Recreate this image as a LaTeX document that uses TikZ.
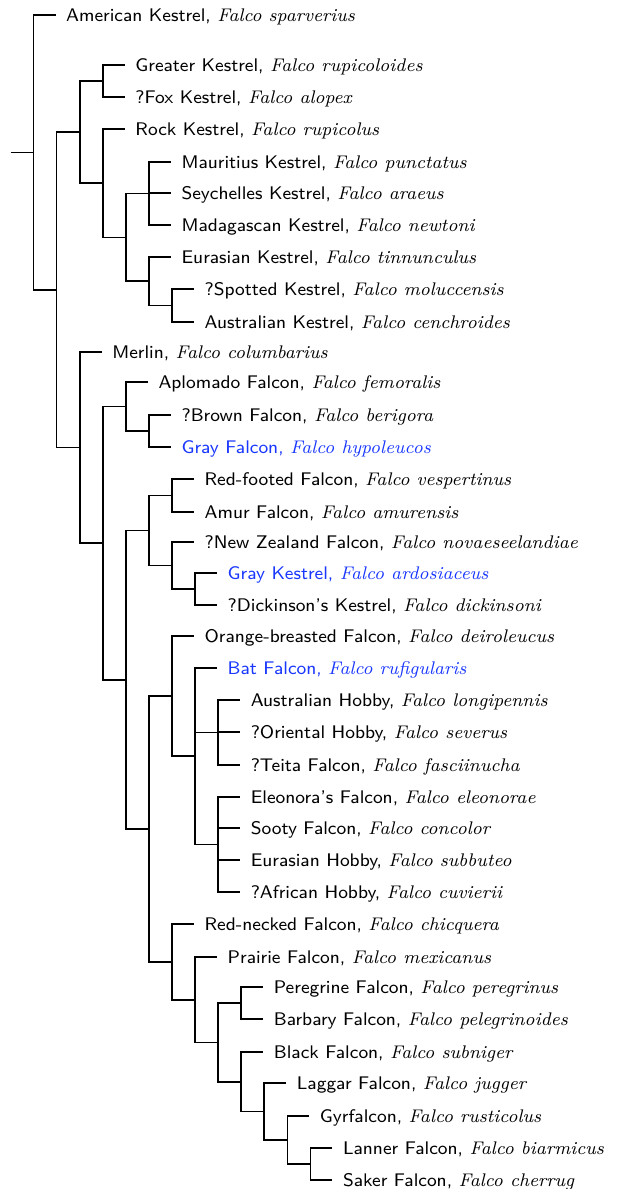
\documentclass[tikz,border=0pt]{standalone}
\usepackage{graphicx}
\definecolor{hlblue}{RGB}{25,55,255}
\newcommand{\spn}[1]{{\rmfamily\itshape #1}}
\newcommand{\lf}[2]{\scalebox{1.29}{#1, \spn{#2}}}
\begin{document}
\begin{tikzpicture}[x=0.5645pt,y=-0.5645pt,line width=0.95pt,
  tip/.style={anchor=west,font=\fontsize{8}{9.6}\selectfont\sffamily,text height=7.17pt,text depth=0pt,inner xsep=5.5pt,inner ysep=0pt},
  hl/.style={text=hlblue},
  branch/.style={draw=black}]
\useasboundingbox (0,0) rectangle (617,1189);
% internal nodes
\coordinate (r0) at (10.5,152.4);
\coordinate (R) at (33.57,152.4);
\coordinate (A) at (56.64,289.8);
\coordinate (K) at (79.71,132);
\coordinate (K1) at (102.78,80.8);
\coordinate (K2) at (102.78,183.2);
\coordinate (K3) at (125.85,237.4);
\coordinate (K4) at (148.92,193.5);
\coordinate (K5) at (148.92,281.25);
\coordinate (K6) at (171.99,305.5);
\coordinate (H) at (79.71,447.6);
\coordinate (H1) at (102.78,543.1);
\coordinate (H2) at (125.85,406.5);
\coordinate (H4) at (148.92,431);
\coordinate (H3) at (125.85,679.75);
\coordinate (H5) at (148.92,530.5);
\coordinate (H7) at (171.99,495.5);
\coordinate (H8) at (171.99,565.5);
\coordinate (H9) at (195.06,589);
\coordinate (H6) at (148.92,829);
\coordinate (H10) at (171.99,696.1);
\coordinate (H12) at (195.06,756.25);
\coordinate (H13) at (218.13,732.5);
\coordinate (H14) at (218.13,844.5);
\coordinate (H11) at (171.99,961.85);
\coordinate (H15) at (195.06,999.7);
\coordinate (H16) at (218.13,1042.4);
\coordinate (H17) at (241.2,1003);
\coordinate (H18) at (241.2,1081.75);
\coordinate (H19) at (264.27,1111.5);
\coordinate (H20) at (287.34,1140);
\coordinate (H21) at (310.41,1164);
% leaves
\node[tip] (am) at (55.64,15) {\lf{American Kestrel}{Falco sparverius}};
\node[tip] (gr) at (124.85,65) {\lf{Greater Kestrel}{Falco rupicoloides}};
\node[tip] (fo) at (124.85,96.7) {\lf{?Fox Kestrel}{Falco alopex}};
\node[tip] (ro) at (124.85,129) {\lf{Rock Kestrel}{Falco rupicolus}};
\node[tip] (ma) at (170.99,162) {\lf{Mauritius Kestrel}{Falco punctatus}};
\node[tip] (se) at (170.99,193) {\lf{Seychelles Kestrel}{Falco araeus}};
\node[tip] (mg) at (170.99,225) {\lf{Madagascan Kestrel}{Falco newtoni}};
\node[tip] (eu) at (170.99,257) {\lf{Eurasian Kestrel}{Falco tinnunculus}};
\node[tip] (sp) at (194.06,289) {\lf{?Spotted Kestrel}{Falco moluccensis}};
\node[tip] (au) at (194.06,322) {\lf{Australian Kestrel}{Falco cenchroides}};
\node[tip] (me) at (101.78,352) {\lf{Merlin}{Falco columbarius}};
\node[tip] (ap) at (147.92,382) {\lf{Aplomado Falcon}{Falco femoralis}};
\node[tip] (br) at (170.99,415) {\lf{?Brown Falcon}{Falco berigora}};
\node[tip,hl] (gf) at (170.99,447) {\lf{Gray Falcon}{Falco hypoleucos}};
\node[tip] (rf) at (194.06,479) {\lf{Red-footed Falcon}{Falco vespertinus}};
\node[tip] (amu) at (194.06,512) {\lf{Amur Falcon}{Falco amurensis}};
\node[tip] (nz) at (194.06,542) {\lf{?New Zealand Falcon}{Falco novaeseelandiae}};
\node[tip,hl] (gk) at (217.13,573) {\lf{Gray Kestrel}{Falco ardosiaceus}};
\node[tip] (di) at (217.13,605) {\lf{?Dickinson's Kestrel}{Falco dickinsoni}};
\node[tip] (orb) at (194.06,636) {\lf{Orange-breasted Falcon}{Falco deiroleucus}};
\node[tip,hl] (ba) at (217.13,668) {\lf{Bat Falcon}{Falco rufigularis}};
\node[tip] (ah) at (240.2,700) {\lf{Australian Hobby}{Falco longipennis}};
\node[tip] (oh) at (240.2,732) {\lf{?Oriental Hobby}{Falco severus}};
\node[tip] (te) at (240.2,765) {\lf{?Teita Falcon}{Falco fasciinucha}};
\node[tip] (el) at (240.2,797) {\lf{Eleonora's Falcon}{Falco eleonorae}};
\node[tip] (so) at (240.2,828) {\lf{Sooty Falcon}{Falco concolor}};
\node[tip] (eh) at (240.2,860) {\lf{Eurasian Hobby}{Falco subbuteo}};
\node[tip] (af) at (240.2,892) {\lf{?African Hobby}{Falco cuvierii}};
\node[tip] (rn) at (194.06,924) {\lf{Red-necked Falcon}{Falco chicquera}};
\node[tip] (pr) at (217.13,957) {\lf{Prairie Falcon}{Falco mexicanus}};
\node[tip] (pe) at (263.27,987) {\lf{Peregrine Falcon}{Falco peregrinus}};
\node[tip] (bb) at (263.27,1019) {\lf{Barbary Falcon}{Falco pelegrinoides}};
\node[tip] (bl) at (263.27,1052) {\lf{Black Falcon}{Falco subniger}};
\node[tip] (la) at (286.34,1083) {\lf{Laggar Falcon}{Falco jugger}};
\node[tip] (gy) at (309.41,1116) {\lf{Gyrfalcon}{Falco rusticolus}};
\node[tip] (ln) at (332.48,1148) {\lf{Lanner Falcon}{Falco biarmicus}};
\node[tip] (sa) at (332.48,1180) {\lf{Saker Falcon}{Falco cherrug}};
% branches
\draw[branch] (r0) -- (R);
\draw[branch] (R) |- (am.west);
\draw[branch] (R) |- (A);
\draw[branch] (A) |- (K);
\draw[branch] (A) |- (H);
\draw[branch] (K) |- (K1);
\draw[branch] (K) |- (K2);
\draw[branch] (K1) |- (gr.west);
\draw[branch] (K1) |- (fo.west);
\draw[branch] (K2) |- (ro.west);
\draw[branch] (K2) |- (K3);
\draw[branch] (K3) |- (K4);
\draw[branch] (K3) |- (K5);
\draw[branch] (K4) |- (ma.west);
\draw[branch] (K4) |- (se.west);
\draw[branch] (K4) |- (mg.west);
\draw[branch] (K5) |- (eu.west);
\draw[branch] (K5) |- (K6);
\draw[branch] (K6) |- (sp.west);
\draw[branch] (K6) |- (au.west);
\draw[branch] (H) |- (me.west);
\draw[branch] (H) |- (H1);
\draw[branch] (H1) |- (H2);
\draw[branch] (H1) |- (H3);
\draw[branch] (H2) |- (ap.west);
\draw[branch] (H2) |- (H4);
\draw[branch] (H4) |- (br.west);
\draw[branch] (H4) |- (gf.west);
\draw[branch] (H3) |- (H5);
\draw[branch] (H3) |- (H6);
\draw[branch] (H5) |- (H7);
\draw[branch] (H5) |- (H8);
\draw[branch] (H7) |- (rf.west);
\draw[branch] (H7) |- (amu.west);
\draw[branch] (H8) |- (nz.west);
\draw[branch] (H8) |- (H9);
\draw[branch] (H9) |- (gk.west);
\draw[branch] (H9) |- (di.west);
\draw[branch] (H6) |- (H10);
\draw[branch] (H6) |- (H11);
\draw[branch] (H10) |- (orb.west);
\draw[branch] (H10) |- (H12);
\draw[branch] (H12) |- (ba.west);
\draw[branch] (H12) |- (H13);
\draw[branch] (H12) |- (H14);
\draw[branch] (H13) |- (ah.west);
\draw[branch] (H13) |- (oh.west);
\draw[branch] (H13) |- (te.west);
\draw[branch] (H14) |- (el.west);
\draw[branch] (H14) |- (so.west);
\draw[branch] (H14) |- (eh.west);
\draw[branch] (H14) |- (af.west);
\draw[branch] (H11) |- (rn.west);
\draw[branch] (H11) |- (H15);
\draw[branch] (H15) |- (pr.west);
\draw[branch] (H15) |- (H16);
\draw[branch] (H16) |- (H17);
\draw[branch] (H16) |- (H18);
\draw[branch] (H17) |- (pe.west);
\draw[branch] (H17) |- (bb.west);
\draw[branch] (H18) |- (bl.west);
\draw[branch] (H18) |- (H19);
\draw[branch] (H19) |- (la.west);
\draw[branch] (H19) |- (H20);
\draw[branch] (H20) |- (gy.west);
\draw[branch] (H20) |- (H21);
\draw[branch] (H21) |- (ln.west);
\draw[branch] (H21) |- (sa.west);
\end{tikzpicture}
\end{document}
